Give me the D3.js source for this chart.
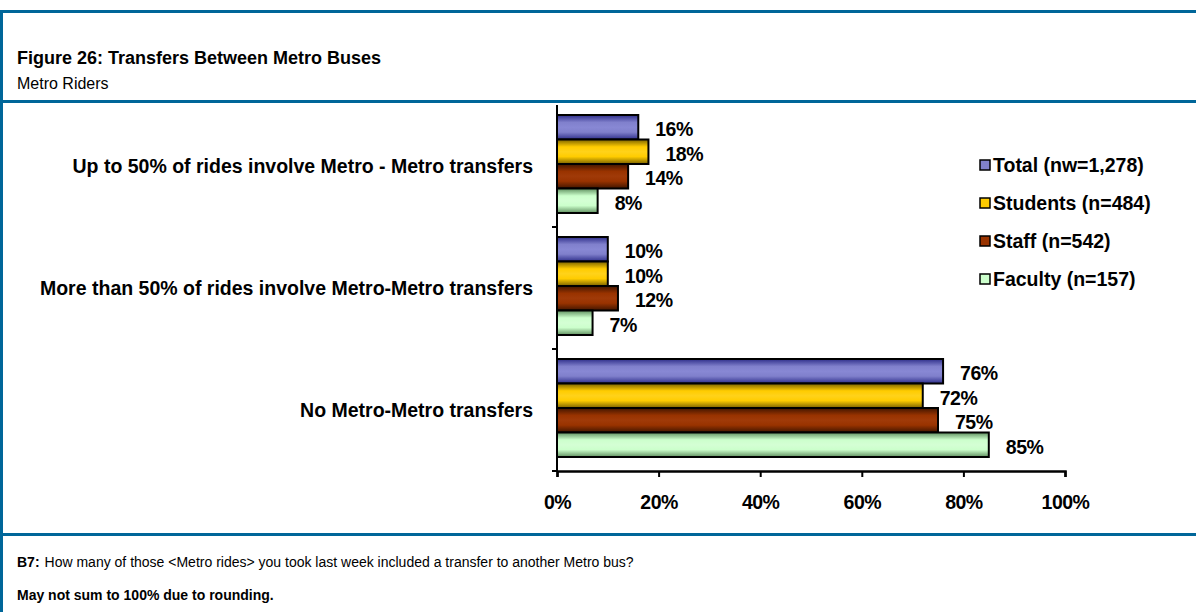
<!DOCTYPE html>
<html>
<head>
<meta charset="utf-8">
<script src="https://cdn.jsdelivr.net/npm/d3@7"></script>
<style>
  body { margin: 0; background: #fff; }
  svg { display: block; font-family: "Liberation Sans", Arial, sans-serif; }
</style>
</head>
<body>
<svg id="chart" width="1196" height="612"></svg>
<script>
// chart data
const categories = [
  'Up to 50% of rides involve Metro - Metro transfers',
  'More than 50% of rides involve Metro-Metro transfers',
  'No Metro-Metro transfers'
];
const seriesNames = ['Total (nw=1,278)', 'Students (n=484)', 'Staff (n=542)', 'Faculty (n=157)'];
const totalValues = [0.16, 0.10, 0.76];
const studentValues = [0.18, 0.10, 0.72];
const staffValues = [0.14, 0.12, 0.75];
const facultyValues = [0.08, 0.07, 0.85];
const tickValues = [0, 0.2, 0.4, 0.6, 0.8, 1];

const seriesValues = [totalValues, studentValues, staffValues, facultyValues];
const baseColors = ['#8080cc', '#ffcc00', '#993300', '#ccffcc'];
const edgeColors = ['#2e2e8a', '#7a6200', '#401500', '#5f8f5f'];
const lightColors = ['#8888d4', '#ffd21a', '#a03a08', '#d4ffd4'];

const svg = d3.select('#chart');
const blue = '#006699';

// frame lines
svg.append('rect').attr('x', 0).attr('y', 10).attr('width', 1196).attr('height', 3).attr('fill', blue);
svg.append('rect').attr('x', 0).attr('y', 10).attr('width', 3).attr('height', 602).attr('fill', blue);
svg.append('rect').attr('x', 0).attr('y', 100).attr('width', 1196).attr('height', 3).attr('fill', blue);
svg.append('rect').attr('x', 0).attr('y', 533).attr('width', 1196).attr('height', 3).attr('fill', blue);

// heading
svg.append('text').attr('x', 17).attr('y', 64)
  .attr('font-size', 18).attr('font-weight', 'bold')
  .text('Figure 26: Transfers Between Metro Buses');
svg.append('text').attr('x', 17).attr('y', 89)
  .attr('font-size', 16)
  .text('Metro Riders');

// footer
const q = svg.append('text').attr('x', 17).attr('y', 567).attr('font-size', 14);
q.append('tspan').attr('font-weight', 'bold').text('B7:');
q.append('tspan').attr('dx', 5).text('How many of those <Metro rides> you took last week included a transfer to another Metro bus?');
svg.append('text').attr('x', 17).attr('y', 600)
  .attr('font-size', 14).attr('font-weight', 'bold')
  .text('May not sum to 100% due to rounding.');

// gradients for the shaded bars
const defs = svg.append('defs');
seriesNames.forEach((s, i) => {
  const g = defs.append('linearGradient')
    .attr('id', `grad-${i}`)
    .attr('x1', 0).attr('y1', 0).attr('x2', 0).attr('y2', 1);
  g.append('stop').attr('offset', '0%').attr('stop-color', edgeColors[i]);
  g.append('stop').attr('offset', '30%').attr('stop-color', baseColors[i]);
  g.append('stop').attr('offset', '50%').attr('stop-color', lightColors[i]);
  g.append('stop').attr('offset', '70%').attr('stop-color', baseColors[i]);
  g.append('stop').attr('offset', '100%').attr('stop-color', edgeColors[i]);
});

// scales
const x = d3.scaleLinear().domain([0, 1]).range([557, 1065]);
const y0 = d3.scaleBand().domain(categories).range([105, 471]);
const y1 = d3.scaleBand().domain(seriesNames).range([10, y0.bandwidth() - 14]);

const labelFont = 19.5;

// bars
const groups = svg.append('g').selectAll('g')
  .data(categories)
  .join('g')
  .attr('transform', d => `translate(0,${y0(d)})`);

groups.selectAll('rect')
  .data((c, ci) => seriesNames.map((s, si) => ({ s, si, v: seriesValues[si][ci] })))
  .join('rect')
  .attr('x', x(0))
  .attr('y', d => y1(d.s))
  .attr('width', d => x(d.v) - x(0))
  .attr('height', y1.bandwidth())
  .attr('fill', d => `url(#grad-${d.si})`)
  .attr('stroke', '#000')
  .attr('stroke-width', 2);

groups.selectAll('text')
  .data((c, ci) => seriesNames.map((s, si) => ({ s, si, v: seriesValues[si][ci] })))
  .join('text')
  .attr('x', d => x(d.v) + 17)
  .attr('y', d => y1(d.s) + y1.bandwidth() / 2 + 9)
  .attr('font-size', labelFont)
  .attr('font-weight', 'bold')
  .attr('letter-spacing', -0.5)
  .text(d => d3.format('.0%')(d.v));

// category labels
svg.append('g').selectAll('text')
  .data(categories)
  .join('text')
  .attr('x', 533)
  .attr('y', d => y0(d) + y0.bandwidth() / 2 + 7)
  .attr('text-anchor', 'end')
  .attr('font-size', labelFont)
  .attr('font-weight', 'bold')
  .text(d => d);

// y axis line with ticks on category boundaries
const yAxis = svg.append('g').attr('stroke', '#000').attr('stroke-width', 2);
yAxis.append('line')
  .attr('x1', x(0)).attr('x2', x(0))
  .attr('y1', y0.range()[0]).attr('y2', y0.range()[1]);
yAxis.selectAll('.ytick')
  .data(categories)
  .join('line')
  .attr('class', 'ytick')
  .attr('x1', x(0) - 5).attr('x2', x(0))
  .attr('y1', d => y0(d) + y0.bandwidth())
  .attr('y2', d => y0(d) + y0.bandwidth());

// x axis
const xAxis = svg.append('g')
  .attr('transform', `translate(0,${y0.range()[1]})`)
  .call(d3.axisBottom(x).tickValues(tickValues).tickFormat(d3.format('.0%')).tickSize(6).tickPadding(18));
xAxis.select('.domain').attr('stroke-width', 2.5);
xAxis.selectAll('.tick line').attr('stroke-width', 2);
xAxis.selectAll('.tick text')
  .attr('font-size', labelFont)
  .attr('font-weight', 'bold')
  .attr('letter-spacing', -0.5)
  .attr('font-family', '"Liberation Sans", Arial, sans-serif')
  .attr('fill', '#000');

// legend
const legend = svg.append('g').selectAll('g')
  .data(seriesNames)
  .join('g')
  .attr('transform', (d, i) => `translate(980,${165 + i * 38})`);
legend.append('rect')
  .attr('x', 0).attr('y', -5)
  .attr('width', 10).attr('height', 10)
  .attr('fill', (d, i) => baseColors[i])
  .attr('stroke', '#000').attr('stroke-width', 1.5);
legend.append('text')
  .attr('x', 13).attr('y', 7)
  .attr('font-size', labelFont)
  .attr('font-weight', 'bold')
  .text(d => d);
</script>
</body>
</html>
